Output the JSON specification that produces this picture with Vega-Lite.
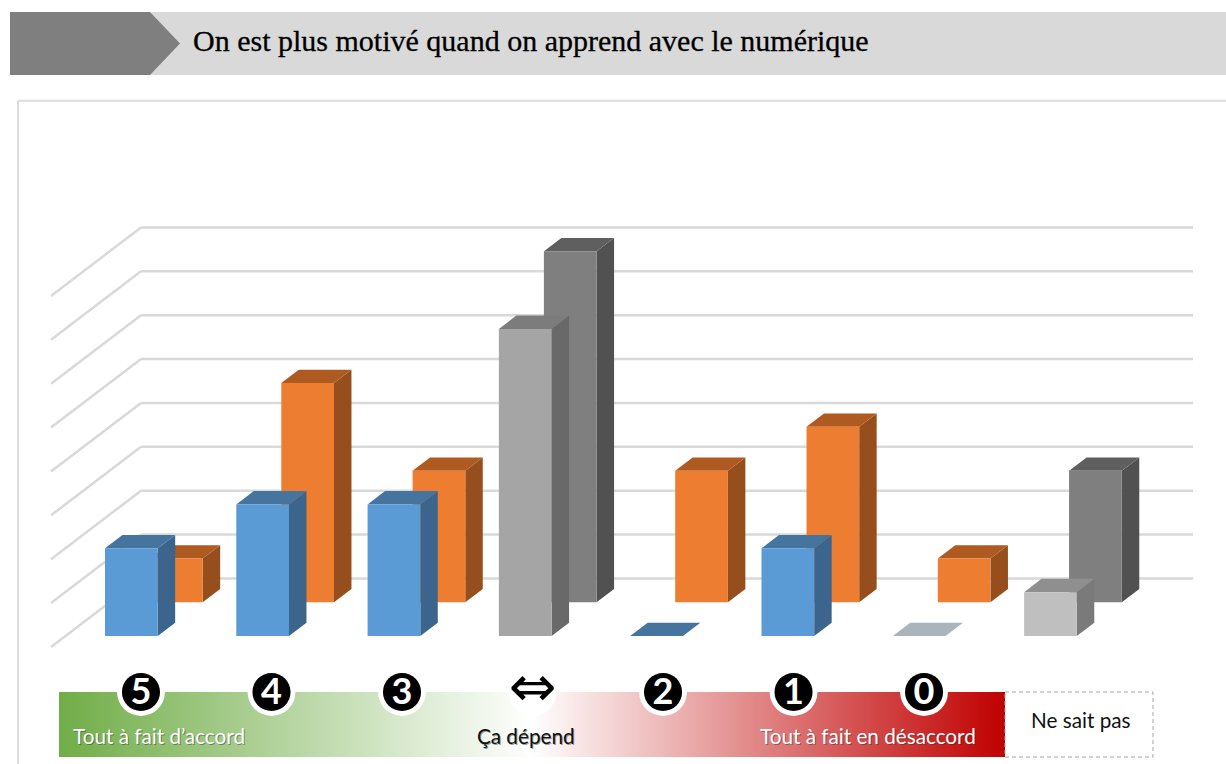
{"$schema":"https://vega.github.io/schema/vega-lite/v6.json","width":1226,"height":764,"padding":0,"autosize":{"type":"none"},"background":"#ffffff","config":{"view":{"stroke":null},"axis":{"disable":true},"legend":{"disable":true}},"resolve":{"scale":{"color":"independent"}},
"data":{"values":[
{"reponse":"5","serie":"A","valeur":2,"ton":"bleu"},{"reponse":"4","serie":"A","valeur":3,"ton":"bleu"},{"reponse":"3","serie":"A","valeur":3,"ton":"bleu"},{"reponse":"⇔","serie":"A","valeur":7,"ton":"gris moyen"},{"reponse":"2","serie":"A","valeur":0,"ton":"bleu"},{"reponse":"1","serie":"A","valeur":2,"ton":"bleu"},{"reponse":"0","serie":"A","valeur":0,"ton":"ardoise"},{"reponse":"Ne sait pas","serie":"A","valeur":1,"ton":"gris clair"},
{"reponse":"5","serie":"B","valeur":1,"ton":"orange"},{"reponse":"4","serie":"B","valeur":5,"ton":"orange"},{"reponse":"3","serie":"B","valeur":3,"ton":"orange"},{"reponse":"⇔","serie":"B","valeur":8,"ton":"gris foncé"},{"reponse":"2","serie":"B","valeur":3,"ton":"orange"},{"reponse":"1","serie":"B","valeur":4,"ton":"orange"},{"reponse":"0","serie":"B","valeur":1,"ton":"orange"},{"reponse":"Ne sait pas","serie":"B","valeur":3,"ton":"gris foncé"}]},
"transform":[
{"calculate":"indexof(['5','4','3','⇔','2','1','0','Ne sait pas'],datum.reponse)","as":"i"},
{"calculate":"datum.i+(datum.serie=='B'?0.3427:0)","as":"x0"},
{"calculate":"datum.x0+0.4014","as":"x1"},
{"calculate":"datum.serie=='B'?0.768:0","as":"base"},
{"calculate":"datum.base+datum.valeur","as":"haut"},
{"calculate":"datum.i*0.994+0.274","as":"xr"},
{"calculate":"[0,1]","as":"d"},
{"flatten":["d"]},
{"calculate":"datum.x1+datum.d*0.133","as":"sx"},
{"calculate":"datum.haut+datum.d*0.303","as":"sy"},
{"calculate":"datum.base+datum.d*0.303","as":"sy2"},
{"calculate":"datum.x0+datum.d*0.133","as":"tx"},
{"calculate":"datum.x1+datum.d*0.133","as":"tx2"}
],
"layer":[
{"data":{"values":[{}]},"mark":{"type":"rect","color":"#d9d9d9"},"encoding":{"x":{"datum":-0.7235,"scale":{"domain":[-0.7997,8.5377],"nice":false,"zero":false}},"x2":{"datum":8.5377},"y":{"datum":14.222,"scale":{"domain":[-2.917,14.496],"nice":false,"zero":false}},"y2":{"datum":12.786}}},
{"data":{"values":[{"px":-0.7235,"h":14.222,"b":12.786},{"px":0.3427,"h":14.222,"b":12.786},{"px":0.5712,"h":13.504,"b":13.504}]},"mark":{"type":"area","color":"#7f7f7f","orient":"vertical"},"encoding":{"x":{"field":"px","type":"quantitative","scale":{"domain":[-0.7997,8.5377],"nice":false,"zero":false}},"y":{"field":"h","type":"quantitative","stack":null,"scale":{"domain":[-2.917,14.496],"nice":false,"zero":false}},"y2":{"field":"b"}}},
{"data":{"values":[{"titre":"On est plus motivé quand on apprend avec le numérique"}]},"mark":{"type":"text","font":"Liberation Serif","fontSize":30,"align":"left","baseline":"middle","color":"#000000","stroke":"#000000","strokeWidth":0.3},"encoding":{"text":{"field":"titre"},"x":{"datum":0.6702,"scale":{"domain":[-0.7997,8.5377],"nice":false,"zero":false}},"y":{"datum":13.55,"scale":{"domain":[-2.917,14.496],"nice":false,"zero":false}}}},
{"data":{"values":[{}]},"mark":{"type":"rule","color":"#dcdcdc","strokeWidth":2},"encoding":{"x":{"datum":-0.6626,"scale":{"domain":[-0.7997,8.5377],"nice":false,"zero":false}},"x2":{"datum":8.5377},"y":{"datum":12.2,"scale":{"domain":[-2.917,14.496],"nice":false,"zero":false}}}},
{"data":{"values":[{}]},"mark":{"type":"rule","color":"#dcdcdc","strokeWidth":2},"encoding":{"x":{"datum":-0.6626,"scale":{"domain":[-0.7997,8.5377],"nice":false,"zero":false}},"y":{"datum":12.2,"scale":{"domain":[-2.917,14.496],"nice":false,"zero":false}},"y2":{"datum":-2.917}}},
{"data":{"values":[{"g":0},{"g":1},{"g":2},{"g":3},{"g":4},{"g":5},{"g":6},{"g":7},{"g":8}]},"transform":[{"calculate":"datum.g+1.312","as":"gy"},{"calculate":"datum.g-0.25","as":"gy2"}],"layer":[
{"mark":{"type":"rule","color":"#d9d9d9","strokeWidth":2.5},"encoding":{"x":{"datum":0.2742,"scale":{"domain":[-0.7997,8.5377],"nice":false,"zero":false}},"x2":{"datum":8.2864},"y":{"field":"gy","type":"quantitative","scale":{"domain":[-2.917,14.496],"nice":false,"zero":false}}}},
{"mark":{"type":"rule","color":"#d9d9d9","strokeWidth":2.5},"encoding":{"x":{"datum":0.2742,"scale":{"domain":[-0.7997,8.5377],"nice":false,"zero":false}},"x2":{"datum":-0.4113},"y":{"field":"gy","type":"quantitative","scale":{"domain":[-2.917,14.496],"nice":false,"zero":false}},"y2":{"field":"gy2"}}}
]},
{"transform":[{"filter":"datum.serie=='B'"}],"mark":{"type":"area","orient":"vertical"},"encoding":{"x":{"field":"sx","type":"quantitative","scale":{"domain":[-0.7997,8.5377],"nice":false,"zero":false}},"y":{"field":"sy","type":"quantitative","stack":null,"scale":{"domain":[-2.917,14.496],"nice":false,"zero":false}},"y2":{"field":"sy2"},"detail":{"field":"reponse"},"color":{"field":"ton","type":"nominal","scale":{"domain":["bleu","orange","gris moyen","gris foncé","gris clair","ardoise"],"range":["#3b658c","#964e1c","#696969","#515151","#7a7a7a","#7e8a97"]}}}},
{"transform":[{"filter":"datum.serie=='B'"}],"mark":{"type":"area","orient":"horizontal"},"encoding":{"y":{"field":"sy","type":"quantitative","scale":{"domain":[-2.917,14.496],"nice":false,"zero":false}},"x":{"field":"tx","type":"quantitative","stack":null,"scale":{"domain":[-0.7997,8.5377],"nice":false,"zero":false}},"x2":{"field":"tx2"},"detail":{"field":"reponse"},"color":{"field":"ton","type":"nominal","scale":{"domain":["bleu","orange","gris moyen","gris foncé","gris clair","ardoise"],"range":["#45749f","#ae5a21","#7c7c7c","#5f5f5f","#8f8f8f","#a9b4bd"]}}}},
{"transform":[{"filter":"datum.serie=='B' && datum.d==0"}],"mark":{"type":"rect"},"encoding":{"x":{"field":"x0","type":"quantitative","scale":{"domain":[-0.7997,8.5377],"nice":false,"zero":false}},"x2":{"field":"x1"},"y":{"field":"haut","type":"quantitative","scale":{"domain":[-2.917,14.496],"nice":false,"zero":false}},"y2":{"field":"base"},"color":{"field":"ton","type":"nominal","scale":{"domain":["bleu","orange","gris moyen","gris foncé","gris clair","ardoise"],"range":["#5b9bd5","#ed7d31","#a5a5a5","#7f7f7f","#bfbfbf","#adb9ca"]}}}},
{"transform":[{"filter":"datum.serie=='A'"}],"mark":{"type":"area","orient":"vertical"},"encoding":{"x":{"field":"sx","type":"quantitative","scale":{"domain":[-0.7997,8.5377],"nice":false,"zero":false}},"y":{"field":"sy","type":"quantitative","stack":null,"scale":{"domain":[-2.917,14.496],"nice":false,"zero":false}},"y2":{"field":"sy2"},"detail":{"field":"reponse"},"color":{"field":"ton","type":"nominal","scale":{"domain":["bleu","orange","gris moyen","gris foncé","gris clair","ardoise"],"range":["#3b658c","#964e1c","#696969","#515151","#7a7a7a","#7e8a97"]}}}},
{"transform":[{"filter":"datum.serie=='A'"}],"mark":{"type":"area","orient":"horizontal"},"encoding":{"y":{"field":"sy","type":"quantitative","scale":{"domain":[-2.917,14.496],"nice":false,"zero":false}},"x":{"field":"tx","type":"quantitative","stack":null,"scale":{"domain":[-0.7997,8.5377],"nice":false,"zero":false}},"x2":{"field":"tx2"},"detail":{"field":"reponse"},"color":{"field":"ton","type":"nominal","scale":{"domain":["bleu","orange","gris moyen","gris foncé","gris clair","ardoise"],"range":["#45749f","#ae5a21","#7c7c7c","#5f5f5f","#8f8f8f","#a9b4bd"]}}}},
{"transform":[{"filter":"datum.serie=='A' && datum.d==0"}],"mark":{"type":"rect"},"encoding":{"x":{"field":"x0","type":"quantitative","scale":{"domain":[-0.7997,8.5377],"nice":false,"zero":false}},"x2":{"field":"x1"},"y":{"field":"haut","type":"quantitative","scale":{"domain":[-2.917,14.496],"nice":false,"zero":false}},"y2":{"field":"base"},"color":{"field":"ton","type":"nominal","scale":{"domain":["bleu","orange","gris moyen","gris foncé","gris clair","ardoise"],"range":["#5b9bd5","#ed7d31","#a5a5a5","#7f7f7f","#bfbfbf","#adb9ca"]}}}},
{"data":{"values":[{}]},"mark":{"type":"rect","color":{"gradient":"linear","x1":0,"x2":1,"y1":0,"y2":0,"stops":[{"offset":0,"color":"#70ad47"},{"offset":0.5,"color":"#ffffff"},{"offset":1,"color":"#c00000"}]}},"encoding":{"x":{"datum":-0.3503,"scale":{"domain":[-0.7997,8.5377],"nice":false,"zero":false}},"x2":{"datum":6.8545},"y":{"datum":-1.2764,"scale":{"domain":[-2.917,14.496],"nice":false,"zero":false}},"y2":{"datum":-2.758}}},
{"data":{"values":[{}]},"mark":{"type":"rect","fill":"#ffffff","stroke":"#a6a6a6","strokeWidth":1,"strokeDash":[4,3]},"encoding":{"x":{"datum":6.8545,"scale":{"domain":[-0.7997,8.5377],"nice":false,"zero":false}},"x2":{"datum":7.9817},"y":{"datum":-1.2764,"scale":{"domain":[-2.917,14.496],"nice":false,"zero":false}},"y2":{"datum":-2.758}}},
{"data":{"values":[{"libelle":"Tout à fait d’accord","debut":-0.2437,"niveau":-2.32},{"libelle":"Ça dépend","debut":2.833,"niveau":-2.32},{"libelle":"Tout à fait en désaccord","debut":4.989,"niveau":-2.32}]},"mark":{"type":"text","font":"Lato","fontSize":20.7,"align":"left","baseline":"middle","dx":1,"dy":1,"color":"#333333","opacity":0.45},"encoding":{"text":{"field":"libelle"},"x":{"field":"debut","type":"quantitative","scale":{"domain":[-0.7997,8.5377],"nice":false,"zero":false}},"y":{"field":"niveau","type":"quantitative","scale":{"domain":[-2.917,14.496],"nice":false,"zero":false}}}},
{"data":{"values":[{"libelle":"Tout à fait d’accord","debut":-0.2437,"niveau":-2.32,"encre":"clair"},{"libelle":"Ça dépend","debut":2.833,"niveau":-2.32,"encre":"sombre"},{"libelle":"Tout à fait en désaccord","debut":4.989,"niveau":-2.32,"encre":"clair"},{"libelle":"Ne sait pas","debut":7.053,"niveau":-1.96,"encre":"sombre"}]},"mark":{"type":"text","font":"Lato","fontSize":20.7,"align":"left","baseline":"middle"},"encoding":{"text":{"field":"libelle"},"x":{"field":"debut","type":"quantitative","scale":{"domain":[-0.7997,8.5377],"nice":false,"zero":false}},"y":{"field":"niveau","type":"quantitative","scale":{"domain":[-2.917,14.496],"nice":false,"zero":false}},"color":{"field":"encre","type":"nominal","scale":{"domain":["clair","sombre"],"range":["#ffffff","#111111"]}}}},
{"transform":[{"filter":"datum.serie=='A' && datum.d==0 && datum.i<7"}],"mark":{"type":"point","filled":true,"color":"#ffffff","opacity":1,"size":2290},"encoding":{"x":{"field":"xr","type":"quantitative","scale":{"domain":[-0.7997,8.5377],"nice":false,"zero":false}},"y":{"datum":-1.2764,"scale":{"domain":[-2.917,14.496],"nice":false,"zero":false}}}},
{"transform":[{"filter":"datum.serie=='A' && datum.d==0 && datum.i<7 && datum.reponse!='⇔'"}],"mark":{"type":"point","filled":true,"color":"#000000","opacity":1,"size":1452},"encoding":{"x":{"field":"xr","type":"quantitative","scale":{"domain":[-0.7997,8.5377],"nice":false,"zero":false}},"y":{"datum":-1.2764,"scale":{"domain":[-2.917,14.496],"nice":false,"zero":false}}}},
{"transform":[{"filter":"datum.serie=='A' && datum.d==0 && datum.i<7 && datum.reponse!='⇔'"}],"mark":{"type":"text","font":"Lato","fontWeight":"bold","fontSize":36,"color":"#ffffff","align":"center","baseline":"middle","dy":1},"encoding":{"text":{"field":"reponse"},"x":{"field":"xr","type":"quantitative","scale":{"domain":[-0.7997,8.5377],"nice":false,"zero":false}},"y":{"datum":-1.2764,"scale":{"domain":[-2.917,14.496],"nice":false,"zero":false}}}},
{"transform":[{"filter":"datum.serie=='A' && datum.d==0 && datum.reponse=='⇔'"}],"mark":{"type":"text","font":"DejaVu Sans","fontSize":57,"color":"#000000","align":"center","baseline":"middle","dy":-3},"encoding":{"text":{"field":"reponse"},"x":{"field":"xr","type":"quantitative","scale":{"domain":[-0.7997,8.5377],"nice":false,"zero":false}},"y":{"datum":-1.2764,"scale":{"domain":[-2.917,14.496],"nice":false,"zero":false}}}}
]}
